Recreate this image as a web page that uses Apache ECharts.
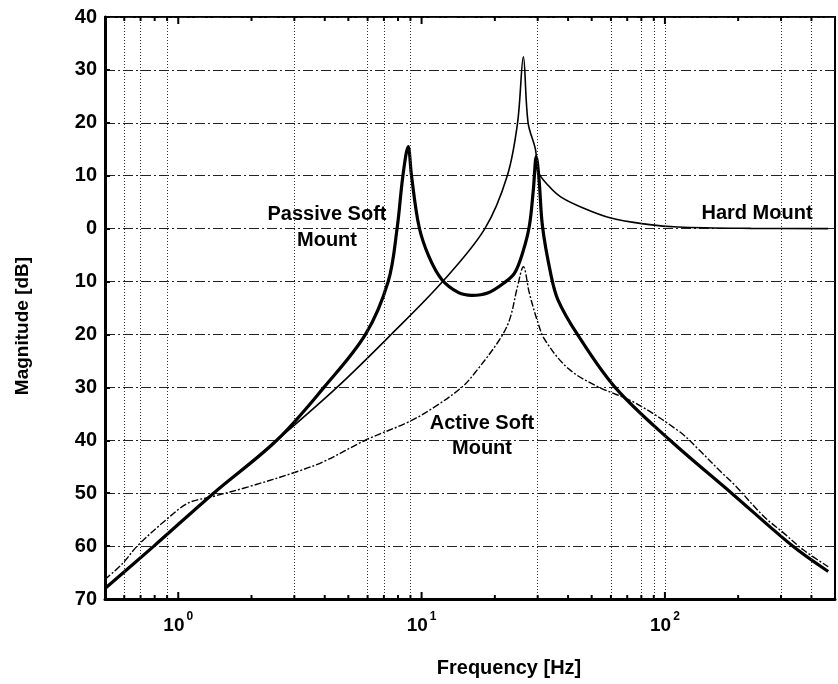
<!DOCTYPE html>
<html>
<head>
<meta charset="utf-8">
<script src="https://cdn.jsdelivr.net/npm/echarts@6/dist/echarts.min.js"></script>
<style>
html,body{margin:0;padding:0;background:#fff;}
#chart{width:838px;height:684px;}
</style>
</head>
<body>
<div id="chart"></div>
<script>
// ---- Data ----
const passiveFreq = [0.5, 0.794, 1.397, 2.54, 3.97, 5.88, 7.29, 7.93, 8.38, 8.81, 9.09, 9.76, 10.7, 12.1, 14.2, 16.1, 18.8, 21.9, 24.1, 26.0, 27.7, 28.8, 29.6, 30.4, 31.4, 33.9, 36.3, 43.7, 62.4, 105, 188, 335, 469];
const passiveDb   = [-68, -60, -50, -40, -30, -20, -10, 0, 10, 15.5, 10, 0.4, -5.2, -9.6, -12.1, -12.6, -12.1, -10.2, -8.4, -4.6, 0.4, 7.4, 13.6, 9.2, 0.4, -8.4, -13.4, -20, -30, -40, -50, -60, -64.8];

const hardFreq = [0.5, 0.794, 1.397, 2.54, 4.49, 7.5, 12.2, 18.2, 22.5, 24.8, 26.2, 27.4, 29.4, 30.1, 33.4, 37.3, 44.6, 60, 84.9, 113, 226, 469];
const hardDb   = [-68, -60, -50, -40, -30, -20, -10, 0, 10, 20, 32.5, 20, 14.9, 10.8, 8.0, 6.0, 4.2, 2.0, 0.8, 0.3, 0.05, 0];

const activeFreq = [0.5, 0.593, 0.675, 0.893, 1.106, 1.37, 1.94, 3.09, 3.97, 5.93, 8.87, 11.4, 14.7, 16.6, 20.9, 23.0, 24.8, 26.2, 27.7, 29.8, 32.1, 40.2, 53.2, 75.2, 115, 138, 171, 193, 255, 307, 370, 469];
const activeDb   = [-66.3, -63.2, -60.1, -55.0, -51.8, -50.7, -48.8, -45.9, -44.0, -39.9, -36.5, -33.6, -29.9, -27.2, -21.0, -17.2, -10.9, -7.2, -12.1, -17.2, -21.0, -26.5, -29.9, -32.9, -38.4, -41.8, -46.1, -48.4, -54.4, -57.5, -60.7, -63.9];

// axis / tick data
const xMin = 0.5, xMax = 500;
const yMin = -70, yMax = 40, yStep = 10;
const majorTickFreqs = [1, 10, 100];
const minorTickFreqs = [0.6, 0.7, 0.8, 0.9, 2, 3, 4, 5, 6, 7, 8, 9, 20, 30, 40, 50, 60, 70, 80, 90, 200, 300, 400];
const gridFreqs = [0.6, 0.7, 0.9, 3, 6, 7, 9, 30, 60, 80, 90, 100, 300, 400];

const FONT = '"Liberation Sans", Arial, Helvetica, sans-serif';

function pairs(fs, vs) { return fs.map((f, i) => [f, vs[i]]); }

const chart = echarts.init(document.getElementById('chart'), null, {renderer: 'canvas'});

const tickData = majorTickFreqs.map(f => [f, 1]).concat(minorTickFreqs.map(f => [f, 0]));

const option = {
  backgroundColor: '#fff',
  animation: false,
  grid: {left: 105, right: -8, top: 17, bottom: 85, show: true, borderColor: '#000', borderWidth: 2, backgroundColor: 'transparent'},
  xAxis: {
    type: 'log', logBase: 10, min: xMin, max: xMax,
    axisLine: {show: true, onZero: false, lineStyle: {color: '#000', width: 3}},
    axisTick: {show: false},
    splitLine: {show: false},
    minorTick: {show: false},
    axisLabel: {
      margin: 12,
      color: '#000',
      formatter: function (v) {
        const l = Math.log10(v);
        if (Math.abs(l - Math.round(l)) < 1e-6) return '{b|10}{s|' + Math.round(l) + '}';
        return '';
      },
      rich: {
        b: {fontFamily: FONT, fontWeight: 'bold', fontSize: 19, color: '#000', verticalAlign: 'bottom', lineHeight: 24},
        s: {fontFamily: FONT, fontWeight: 'bold', fontSize: 12, color: '#000', verticalAlign: 'top', lineHeight: 24, padding: [0, 0, 0, 2]}
      }
    }
  },
  yAxis: {
    type: 'value', min: yMin, max: yMax, interval: yStep,
    axisLine: {show: true, onZero: false, lineStyle: {color: '#000', width: 3}},
    axisTick: {show: true, inside: true, length: 5, lineStyle: {color: '#000', width: 2}},
    axisLabel: {
      margin: 8, color: '#000', fontFamily: FONT, fontWeight: 'bold', fontSize: 20,
      formatter: v => String(Math.abs(v))
    },
    splitLine: {show: true, lineStyle: {color: '#222', width: 1.2, type: [10, 3, 2, 3]}}
  },
  graphic: [
    {type: 'text', x: 327, y: 227, style: {text: 'Passive Soft\nMount', font: 'bold 20px ' + FONT, fill: '#000', align: 'center', verticalAlign: 'middle', lineHeight: 26}},
    {type: 'text', x: 757, y: 213, style: {text: 'Hard Mount', font: 'bold 20px ' + FONT, fill: '#000', align: 'center', verticalAlign: 'middle'}},
    {type: 'text', x: 482, y: 436, style: {text: 'Active Soft\nMount', font: 'bold 20px ' + FONT, fill: '#000', align: 'center', verticalAlign: 'middle', lineHeight: 25}},
    {type: 'text', x: 509, y: 668, style: {text: 'Frequency [Hz]', font: 'bold 20px ' + FONT, fill: '#000', align: 'center', verticalAlign: 'middle'}},
    {type: 'text', x: 23, y: 326, rotation: Math.PI / 2, style: {text: 'Magnitude [dB]', font: 'bold 19px ' + FONT, fill: '#000', align: 'center', verticalAlign: 'middle'}}
  ],
  series: [
    {
      name: 'grid', type: 'line', data: [], silent: true, z: 1,
      markLine: {
        silent: true, symbol: ['none', 'none'], label: {show: false},
        lineStyle: {type: [1, 2], color: '#333', width: 1},
        data: gridFreqs.map(f => ({xAxis: f}))
      }
    },
    {
      name: 'ticks', type: 'custom', data: tickData, silent: true, z: 5, clip: false,
      encode: {x: 0, y: 1},
      renderItem: function (params, api) {
        const f = api.value(0);
        const len = api.value(1) ? 7 : 4;
        const pb = api.coord([f, yMin]);
        const pt = api.coord([f, yMax]);
        return {
          type: 'group',
          children: [
            {type: 'line', shape: {x1: pb[0], y1: pb[1], x2: pb[0], y2: pb[1] - len}, style: {stroke: '#000', lineWidth: 2}},
            {type: 'line', shape: {x1: pt[0], y1: pt[1], x2: pt[0], y2: pt[1] + len}, style: {stroke: '#000', lineWidth: 2}}
          ]
        };
      }
    },
    {
      name: 'Hard Mount', type: 'line', data: pairs(hardFreq, hardDb), showSymbol: false, smooth: 0.35, z: 3,
      lineStyle: {color: '#000', width: 1.6}
    },
    {
      name: 'Active Soft Mount', type: 'line', data: pairs(activeFreq, activeDb), showSymbol: false, smooth: 0.35, z: 3,
      lineStyle: {color: '#000', width: 1.4, type: [7, 2, 2, 2]}
    },
    {
      name: 'Passive Soft Mount', type: 'line', data: pairs(passiveFreq, passiveDb), showSymbol: false, smooth: 0.35, z: 4,
      lineStyle: {color: '#000', width: 3.2}
    }
  ]
};
chart.setOption(option);
</script>
</body>
</html>
